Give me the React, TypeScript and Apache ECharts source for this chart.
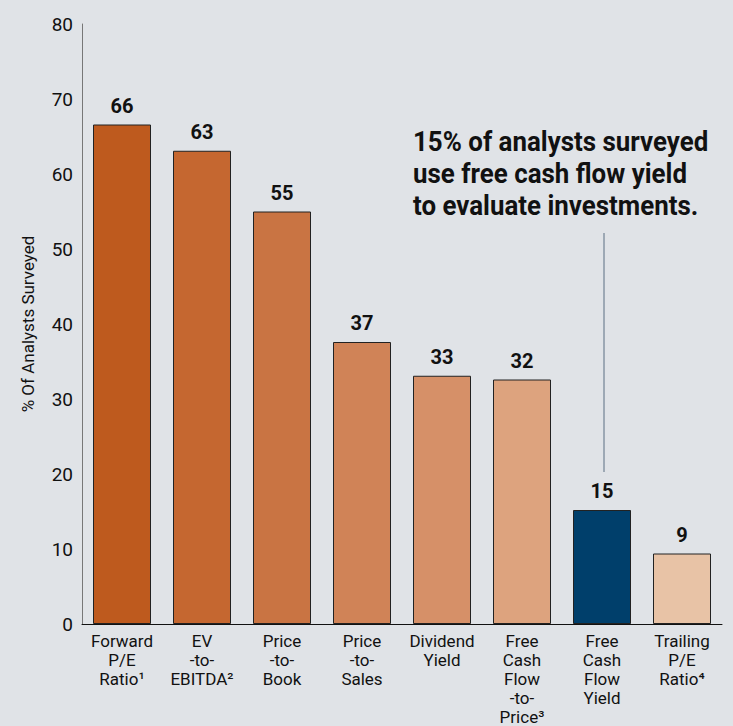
import React, { useEffect, useRef } from "react";
import * as echarts from "echarts";

const categories = [
  "Forward\nP/E\nRatio¹",
  "EV\n-to-\nEBITDA²",
  "Price\n-to-\nBook",
  "Price\n-to-\nSales",
  "Dividend\nYield",
  "Free\nCash\nFlow\n-to-\nPrice³",
  "Free\nCash\nFlow\nYield",
  "Trailing\nP/E\nRatio⁴",
];
const values = [66.6, 63.1, 55.0, 37.6, 33.1, 32.6, 15.2, 9.4];
const barColors = ["#BE5A1E", "#C56730", "#C97443", "#D08357", "#D69068", "#DDA37E", "#003F6B", "#E8C3A6"];
const yTicks = { min: 0, max: 80, interval: 10 };
const annotationLines = ["15% of analysts surveyed", "use free cash flow yield", "to evaluate investments."];

const FONT = "Roboto, 'Liberation Sans', Arial, sans-serif";

export default function App() {
  const ref = useRef<HTMLDivElement>(null);
  useEffect(() => {
    if (!ref.current) return;
    const chart = echarts.init(ref.current, null, { renderer: "svg" });
    chart.setOption({
      animation: false,
      backgroundColor: "#E0E3E7",
      textStyle: { fontFamily: FONT },
      grid: { left: 82, right: 11, top: 24, bottom: 97 },
      xAxis: {
        type: "category",
        data: categories,
        axisLine: { lineStyle: { color: "#111", width: 1 } },
        axisTick: { show: false },
        axisLabel: {
          color: "#111",
          fontSize: 17,
          lineHeight: 19,
          margin: 7,
          fontFamily: FONT,
          interval: 0,
        },
      },
      yAxis: {
        type: "value",
        min: yTicks.min,
        max: yTicks.max,
        interval: yTicks.interval,
        name: "% Of Analysts Surveyed",
        nameLocation: "middle",
        nameGap: 46,
        nameRotate: 90,
        nameTextStyle: { color: "#111", fontSize: 17, fontFamily: FONT },
        axisLine: { show: true, lineStyle: { color: "#777", width: 1 } },
        axisTick: { show: false },
        splitLine: { show: false },
        axisLabel: { color: "#111", fontSize: 19, margin: 9, fontFamily: FONT },
      },
      series: [
        {
          type: "bar",
          barWidth: 58,
          data: values.map((v, i) => ({
            value: v,
            itemStyle: { color: barColors[i], borderColor: "#222", borderWidth: 1 },
          })),
          label: {
            show: true,
            position: "top",
            distance: 9,
            color: "#111",
            fontSize: 20,
            fontWeight: "bold",
            fontFamily: FONT,
            formatter: (p: any) => String(Math.floor(p.value)),
          },
        },
      ],
      graphic: [
        {
          type: "text",
          x: 413,
          y: 126,
          scaleX: 0.925,
          style: {
            text: annotationLines.join("\n"),
            fontSize: 28,
            fontWeight: "bold",
            lineHeight: 32,
            fill: "#111",
            fontFamily: FONT,
          },
        },
        {
          type: "line",
          shape: { x1: 604, y1: 233, x2: 604, y2: 472 },
          style: { stroke: "#5A6E82", lineWidth: 1 },
        },
      ],
    });
    return () => chart.dispose();
  }, []);
  return (
    <div
      ref={ref}
      style={{ width: 733, height: 726, position: "fixed", left: 0, top: 0 }}
    />
  );
}
